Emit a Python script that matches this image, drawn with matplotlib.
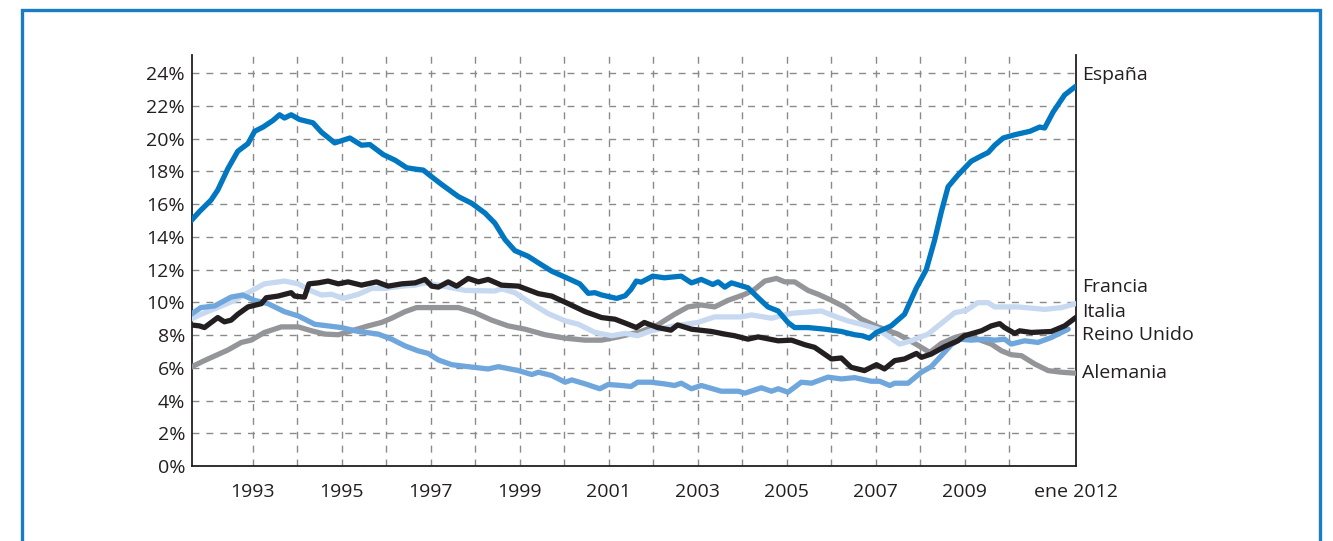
import matplotlib
matplotlib.use("Agg")
import matplotlib.pyplot as plt
from matplotlib.patches import Rectangle

plt.rcParams["font.family"] = ["Open Sans", "DejaVu Sans"]

# time axis in fractional years, grid lines sit at mid-year
espana_t = [1992.11, 1992.30, 1992.56, 1992.71, 1992.94, 1993.16, 1993.39, 1993.54, 1993.73, 1993.95,
            1994.10, 1994.21, 1994.36, 1994.55, 1994.85, 1995.04, 1995.34, 1995.68, 1995.94, 1996.13,
            1996.43, 1996.70, 1996.96, 1997.15, 1997.33, 1997.52, 1997.74, 1998.12, 1998.42, 1998.72,
            1998.94, 1999.17, 1999.39, 1999.69, 1999.92, 2000.22, 2000.52, 2000.85, 2001.04, 2001.19,
            2001.34, 2001.68, 2001.87, 2002.0, 2002.12, 2002.23, 2002.49, 2002.75, 2003.13, 2003.36,
            2003.58, 2003.84, 2003.96, 2004.11, 2004.26, 2004.63, 2004.86, 2005.08, 2005.31, 2005.53,
            2005.68, 2005.98, 2006.36, 2006.73, 2007.03, 2007.20, 2007.36, 2007.52, 2007.85, 2008.15,
            2008.42, 2008.64, 2008.83, 2008.98, 2009.13, 2009.35, 2009.65, 2009.88, 2010.03, 2010.18,
            2010.37, 2010.63, 2010.97, 2011.19, 2011.30, 2011.49, 2011.75, 2012.0]
espana = [14.98, 15.55, 16.25, 16.86, 18.18, 19.23, 19.70, 20.45, 20.71, 21.11,
          21.46, 21.26, 21.46, 21.17, 20.97, 20.40, 19.74, 20.04, 19.60, 19.64,
          19.03, 18.68, 18.22, 18.14, 18.08, 17.67, 17.21, 16.46, 16.05, 15.45,
          14.84, 13.83, 13.16, 12.81, 12.41, 11.90, 11.54, 11.13, 10.55, 10.59,
          10.45, 10.24, 10.40, 10.79, 11.30, 11.23, 11.60, 11.50, 11.60, 11.19,
          11.40, 11.09, 11.25, 10.93, 11.19, 10.89, 10.28, 9.72, 9.47, 8.77,
          8.46, 8.46, 8.36, 8.22, 8.02, 7.96, 7.81, 8.16, 8.56, 9.27,
          10.89, 12.00, 13.83, 15.55, 17.06, 17.77, 18.62, 18.95, 19.15, 19.60,
          20.04, 20.24, 20.45, 20.71, 20.65, 21.62, 22.67, 23.20]

francia_t = [1992.11, 1992.33, 1992.71, 1993.09, 1993.46, 1993.76, 1994.21, 1994.52, 1994.82, 1995.04,
             1995.27, 1995.53, 1995.87, 1996.17, 1996.47, 1996.85, 1997.15, 1997.37, 1997.67, 1998.27,
             1998.94, 1999.09, 1999.39, 1999.77, 2000.14, 2000.52, 2000.82, 2001.19, 2001.57, 2001.87,
             2002.15, 2002.45, 2002.98, 2003.50, 2003.88, 2004.48, 2004.71, 2005.16, 2005.61, 2006.28,
             2006.66, 2006.90, 2007.18, 2007.55, 2008.04, 2008.30, 2008.68, 2009.05, 2009.28, 2009.54,
             2009.80, 2010.03, 2010.18, 2010.70, 2011.30, 2011.68, 2012.0]
francia = [8.97, 9.27, 9.68, 10.12, 10.69, 11.13, 11.30, 11.13, 10.69, 10.45,
           10.49, 10.24, 10.49, 10.85, 10.85, 10.99, 11.05, 11.19, 11.05, 10.73,
           10.69, 10.83, 10.59, 9.92, 9.31, 8.87, 8.66, 8.16, 7.96, 8.10,
           7.96, 8.26, 8.56, 8.77, 9.11, 9.11, 9.23, 9.03, 9.33, 9.47,
           9.07, 8.85, 8.66, 8.36, 7.45, 7.65, 8.06, 8.87, 9.37, 9.51,
           9.98, 9.98, 9.72, 9.72, 9.57, 9.68, 9.92]

italia_t = [1992.11, 1992.30, 1992.41, 1992.71, 1992.86, 1993.01, 1993.16, 1993.39, 1993.69, 1993.80,
            1994.06, 1994.36, 1994.44, 1994.66, 1994.76, 1994.97, 1995.19, 1995.42, 1995.64, 1995.94,
            1996.28, 1996.54, 1996.85, 1997.15, 1997.37, 1997.52, 1997.67, 1997.89, 1998.08, 1998.34,
            1998.57, 1998.79, 1999.09, 1999.47, 1999.92, 2000.22, 2000.59, 2000.97, 2001.34, 2001.64,
            2001.90, 2002.12, 2002.30, 2002.60, 2002.90, 2003.05, 2003.36, 2003.81, 2004.11, 2004.33,
            2004.63, 2004.86, 2005.31, 2005.61, 2005.91, 2006.13, 2006.51, 2006.73, 2006.95, 2007.25,
            2007.52, 2007.70, 2007.93, 2008.15, 2008.42, 2008.53, 2008.75, 2009.05, 2009.35, 2009.50,
            2009.88, 2010.10, 2010.29, 2010.40, 2010.63, 2010.74, 2011.00, 2011.45, 2011.75, 2012.0]
italia = [8.62, 8.56, 8.46, 9.07, 8.81, 8.91, 9.27, 9.72, 9.92, 10.28,
          10.38, 10.59, 10.38, 10.32, 11.13, 11.19, 11.30, 11.13, 11.25, 11.05,
          11.25, 10.99, 11.13, 11.19, 11.40, 10.99, 10.93, 11.25, 10.99, 11.46,
          11.25, 11.40, 11.05, 10.99, 10.53, 10.38, 9.92, 9.43, 9.07, 8.97,
          8.70, 8.46, 8.77, 8.46, 8.30, 8.62, 8.36, 8.22, 8.06, 7.96,
          7.75, 7.89, 7.65, 7.69, 7.41, 7.25, 6.54, 6.60, 6.03, 5.83,
          6.19, 5.93, 6.44, 6.54, 6.88, 6.64, 6.84, 7.29, 7.65, 7.96,
          8.26, 8.56, 8.70, 8.46, 8.10, 8.26, 8.16, 8.22, 8.56, 9.07]

reino_unido_t = [1992.11, 1992.33, 1992.64, 1993.01, 1993.27, 1993.54, 1993.84, 1994.21, 1994.52, 1994.89,
                 1995.19, 1995.49, 1995.87, 1996.32, 1996.62, 1996.91, 1997.21, 1997.44, 1997.67, 1997.97,
                 1998.34, 1998.79, 1999.02, 1999.47, 1999.77, 1999.92, 2000.22, 2000.52, 2000.67, 2000.97,
                 2001.30, 2001.49, 2001.79, 2002.0, 2002.15, 2002.45, 2002.75, 2002.98, 2003.13, 2003.36,
                 2003.58, 2004.03, 2004.41, 2004.56, 2004.93, 2005.16, 2005.31, 2005.53, 2005.83, 2006.06,
                 2006.43, 2006.73, 2007.03, 2007.40, 2007.59, 2007.82, 2007.93, 2008.23, 2008.53, 2008.75,
                 2008.98, 2009.20, 2009.39, 2009.65, 2009.95, 2010.18, 2010.40, 2010.55, 2010.85, 2011.15,
                 2011.45, 2011.83]
reino_unido = [9.27, 9.68, 9.78, 10.32, 10.45, 10.12, 9.92, 9.43, 9.17, 8.66,
               8.56, 8.46, 8.22, 8.06, 7.75, 7.35, 7.04, 6.88, 6.48, 6.19,
               6.07, 5.93, 6.07, 5.83, 5.59, 5.73, 5.53, 5.12, 5.26, 5.02,
               4.72, 4.98, 4.92, 4.86, 5.12, 5.12, 5.02, 4.92, 5.06, 4.72,
               4.92, 4.57, 4.57, 4.45, 4.78, 4.57, 4.72, 4.51, 5.12, 5.06,
               5.43, 5.32, 5.40, 5.18, 5.18, 4.92, 5.06, 5.06, 5.73, 6.07,
               6.74, 7.41, 7.75, 7.69, 7.75, 7.69, 7.75, 7.45, 7.65, 7.55,
               7.85, 8.36]

alemania_t = [1992.07, 1992.41, 1992.94, 1993.24, 1993.46, 1993.76, 1994.14, 1994.52, 1994.82, 1995.12,
              1995.42, 1995.72, 1996.09, 1996.39, 1996.62, 1996.92, 1997.18, 1997.59, 1998.12, 1998.49,
              1998.87, 1999.24, 1999.62, 2000.07, 2000.52, 2000.97, 2001.34, 2001.72, 2002.23, 2002.60,
              2002.98, 2003.28, 2003.58, 2003.88, 2004.18, 2004.56, 2004.78, 2005.01, 2005.27, 2005.46,
              2005.68, 2005.98, 2006.21, 2006.51, 2006.80, 2007.18, 2007.55, 2008.00, 2008.38, 2008.72,
              2008.98, 2009.28, 2009.50, 2009.80, 2010.10, 2010.33, 2010.55, 2010.78, 2011.08, 2011.38,
              2011.68, 2012.0]
alemania = [5.99, 6.44, 7.09, 7.55, 7.69, 8.16, 8.50, 8.50, 8.26, 8.06,
            8.02, 8.26, 8.56, 8.77, 9.03, 9.43, 9.68, 9.68, 9.68, 9.37,
            8.91, 8.56, 8.36, 8.02, 7.81, 7.69, 7.69, 7.89, 8.22, 8.62,
            9.27, 9.72, 9.84, 9.72, 10.12, 10.49, 10.79, 11.30, 11.46, 11.25,
            11.25, 10.73, 10.49, 10.12, 9.72, 8.97, 8.50, 8.06, 7.49, 6.94,
            7.49, 7.85, 8.02, 7.75, 7.45, 7.04, 6.80, 6.74, 6.23, 5.83,
            5.73, 5.67]

tick_years = [1993, 1995, 1997, 1999, 2001, 2003, 2005, 2007, 2009]
grid_years = list(range(1993, 2011))
y_ticks = list(range(0, 25, 2))

fig = plt.figure(figsize=(13.33, 5.41), dpi=100)
ax = fig.add_axes([0.144, 0.1386, 0.663, 0.7594])

# outer blue frame
fig.patches.append(Rectangle((0.0165, -0.05), 0.974, 1.032, transform=fig.transFigure,
                             fill=False, edgecolor="#1a7cc4", linewidth=2.4))

lw = 3.8
ax.plot(alemania_t, alemania, color="#939598", lw=lw, solid_capstyle="round", zorder=3)
ax.plot(francia_t, francia, color="#c6d9f0", lw=lw, solid_capstyle="round", zorder=3)
ax.plot(reino_unido_t, reino_unido, color="#6fa6dc", lw=lw, solid_capstyle="round", zorder=3)
ax.plot(italia_t, italia, color="#231f20", lw=lw, solid_capstyle="round", zorder=4)
ax.plot(espana_t, espana, color="#0077c0", lw=lw, solid_capstyle="round", zorder=5)

ax.set_xlim(1992.13, 2012.0)
ax.set_ylim(0, 25.1)

ax.set_xticks([y + 0.5 for y in tick_years] + [2012.0])
ax.set_xticklabels([str(y) for y in tick_years] + ["ene 2012"])
ax.set_yticks(y_ticks)
ax.set_yticklabels([f"{v}%" for v in y_ticks])
ax.tick_params(axis="both", which="both", length=0, labelsize=14, colors="#231f20")
ax.tick_params(axis="x", pad=12)
ax.tick_params(axis="y", pad=5)

# dashed grid: vertical lines at each mid-year, horizontal at each y tick
for gy in grid_years:
    ax.axvline(gy + 0.5, color="#8a8a8a", linestyle=(0, (5, 5)), lw=1, zorder=1)
ax.grid(True, axis="y", color="#8a8a8a", linestyle=(0, (5, 5)), lw=1)
ax.set_axisbelow(True)
for s in ["left", "bottom", "right"]:
    ax.spines[s].set_color("#231f20")
    ax.spines[s].set_linewidth(1.3)
ax.spines["top"].set_visible(False)

labels = [("España", 23.88), ("Francia", 10.93), ("Italia", 9.40),
          ("Reino Unido", 8.0), ("Alemania", 5.68)]
for name, yv in labels:
    ax.text(2012.15, yv, name, fontsize=14, va="center", ha="left", color="#231f20", clip_on=False)

fig.savefig("out.png", dpi=100)
